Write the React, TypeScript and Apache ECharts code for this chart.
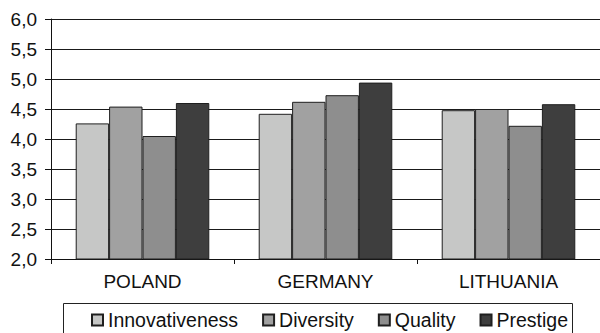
import React, { useEffect, useRef } from "react";
import * as echarts from "echarts";

const countries = ["POLAND", "GERMANY", "LITHUANIA"];
const innovativeness = [4.26, 4.42, 4.48];
const diversity = [4.54, 4.62, 4.5];
const quality = [4.05, 4.73, 4.22];
const prestige = [4.6, 4.94, 4.58];
const seriesNames = ["Innovativeness", "Diversity", "Quality", "Prestige"];
const seriesColors = ["#c6c7c6", "#a1a1a1", "#8e8e8e", "#3e3e3e"];

const FONT = "'Liberation Sans', Arial, Helvetica, sans-serif";

export default function App() {
  const ref = useRef<HTMLDivElement>(null);

  useEffect(() => {
    if (!ref.current) return;
    const chart = echarts.init(ref.current, undefined, { renderer: "svg" });
    const values = [innovativeness, diversity, quality, prestige];

    chart.setOption({
      animation: false,
      backgroundColor: "#ffffff",
      textStyle: { fontFamily: FONT },
      grid: { left: 51, top: 19, right: 0, bottom: 74, containLabel: false },
      xAxis: {
        type: "category",
        data: countries,
        boundaryGap: true,
        axisLine: { lineStyle: { color: "#111", width: 1 } },
        axisTick: { show: true, length: 5, lineStyle: { color: "#111" } },
        axisLabel: { color: "#111", fontSize: 19, fontFamily: FONT, margin: 13 },
        splitLine: { show: false },
      },
      yAxis: {
        type: "value",
        min: 2,
        max: 6,
        interval: 0.5,
        axisLine: { show: true, lineStyle: { color: "#111", width: 1 } },
        axisTick: { show: true, inside: false, length: 6, lineStyle: { color: "#111" } },
        axisLabel: {
          color: "#111",
          fontSize: 19,
          fontFamily: FONT,
          margin: 14,
          formatter: (v: number) => v.toFixed(1).replace(".", ","),
        },
        splitLine: { show: true, lineStyle: { color: "#1a1a1a", width: 1 } },
      },
      legend: {
        data: seriesNames,
        left: 91,
        top: 310,
        padding: 0,
        itemWidth: 11,
        itemHeight: 11,
        itemGap: 24,
        icon: "rect",
        textStyle: { color: "#111", fontSize: 19.5, fontFamily: FONT },
      },
      graphic: [
        {
          type: "rect",
          shape: { x: 63.5, y: 303.5, width: 509, height: 40 },
          style: { fill: "none", stroke: "#222", lineWidth: 1 },
          z: 100,
        },
      ],
      series: seriesNames.map((name, i) => ({
        name,
        type: "bar",
        data: values[i],
        barGap: "0%",
        barCategoryGap: "27%",
        itemStyle: { color: seriesColors[i], borderColor: "#1f1f1f", borderWidth: 1 },
      })),
    });

    return () => chart.dispose();
  }, []);

  return (
    <div
      ref={ref}
      style={{ position: "absolute", left: 0, top: 0, width: 600, height: 333 }}
    />
  );
}
